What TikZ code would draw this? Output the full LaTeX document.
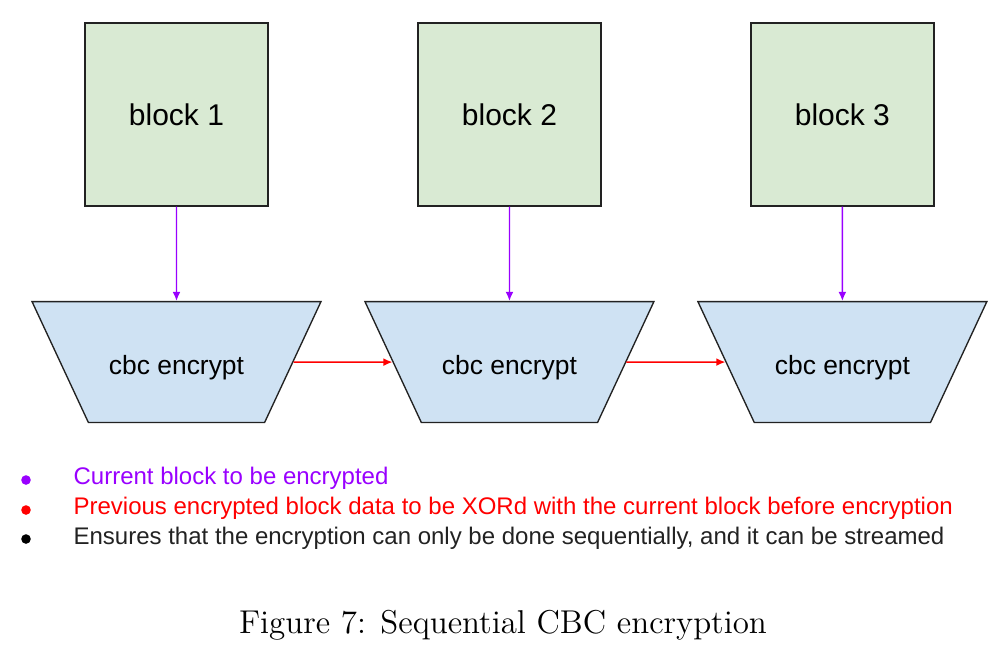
\documentclass[tikz,border=0pt]{standalone}
\usepackage{fontspec}
\newfontfamily\arialfont{Liberation Sans}
\usetikzlibrary{positioning, shapes.geometric, arrows.meta}
\definecolor{blockgreen}{HTML}{D9EAD3}
\definecolor{encblue}{HTML}{CFE2F3}
\definecolor{curpurple}{HTML}{9900FF}
\definecolor{prevred}{HTML}{FF0000}
\definecolor{inkgray}{HTML}{222222}

\begin{document}
\begin{tikzpicture}[
            x=0.3333pt, y=0.3333pt,
            node distance=3.9cm,
            block/.style={rectangle, draw=inkgray, fill=blockgreen, line width=0.45pt, minimum width=61pt, minimum height=61pt, text=black, font=\arialfont\fontsize{10}{12}\selectfont},
            encrypt/.style={trapezium, trapezium angle=65, trapezium stretches body=true, shape border rotate=180, draw=inkgray, fill=encblue, line width=0.45pt, minimum width=96.3pt, minimum height=40.3pt, inner xsep=0pt, inner ysep=14pt, text height=10.4pt, text depth=1.9pt, text=black, font=\arialfont\fontsize{8.8}{10}\selectfont},
            current/.style={-{Latex[length=3pt, width=2.6pt]}, curpurple, line width=0.45pt},
            previous/.style={-{Latex[length=3pt, width=2.6pt]}, prevred, line width=0.45pt},
            bullet/.style={circle, inner sep=0pt, minimum size=3.2pt},
            legend/.style={anchor=west, inner sep=0pt, font=\arialfont\fontsize{8}{10}\selectfont}
            ]
            \useasboundingbox (0,0) rectangle (1006,656);
            
            % Plaintext blocks
            \node[block] (block1) at (176.5,541.5) {block 1};
            \node[block, right of=block1] (block2) {block 2};
            \node[block, right of=block2] (block3) {block 3};
            
            % Encryption steps
            \node[encrypt, below of=block1, yshift=1cm] (enc1) {cbc encrypt};
            \node[encrypt, below of=block2, yshift=1cm] (enc2) {cbc encrypt};
            \node[encrypt, below of=block3, yshift=1cm] (enc3) {cbc encrypt};
            
            % Current block into each step
            \draw[current] (block1) -- (enc1);
            \draw[current] (block2) -- (enc2);
            \draw[current] (block3) -- (enc3);
            
            % Chaining
            \draw[previous] (enc1) -- (enc2);
            \draw[previous] (enc2) -- (enc3);
            
            % Legend
            \node[bullet, fill=curpurple] (dot1) at (26,176) {};
            \node[bullet, fill=prevred] (dot2) at (26,146) {};
            \node[bullet, fill=black] (dot3) at (26,117) {};
            \node[legend, text=curpurple] (leg1) at (73,178) {Current block to be encrypted};
            \node[legend, text=prevred] (leg2) at (73,148) {Previous encrypted block data to be XORd with the current block before encryption};
            \node[legend, text=inkgray] (leg3) at (73,118) {Ensures that the encryption can only be done sequentially, and it can be streamed};
            
            % Caption
            \node[font=\fontsize{11}{13}\selectfont] (caption) at (503,31) {Figure 7: Sequential CBC encryption};
            
        \end{tikzpicture}
\end{document}
